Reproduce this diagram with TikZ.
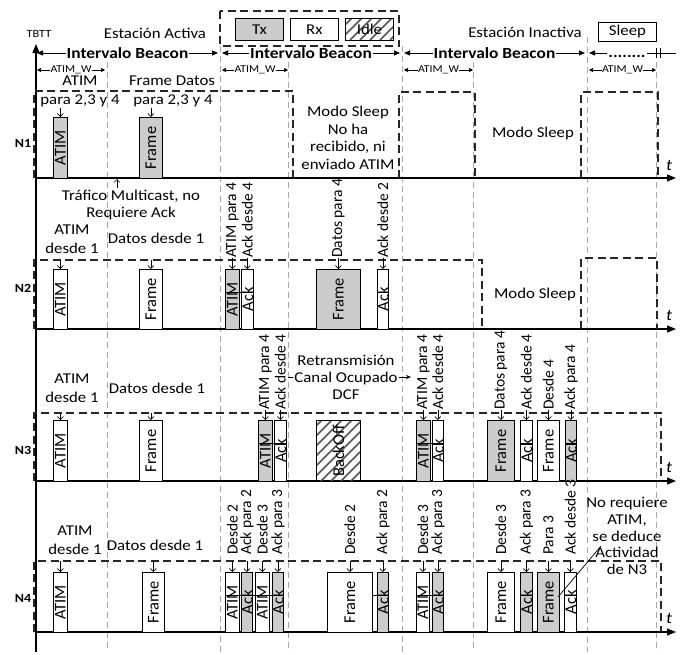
\documentclass[tikz,border=0pt]{standalone}
\usepackage{fontspec}
\usepackage{graphicx}
\setmainfont{Carlito}
\newfontfamily\hf{Carlito}[FakeStretch=1.12]
\usetikzlibrary{arrows.meta}
\definecolor{bg}{RGB}{204,204,204}
\definecolor{gl}{RGB}{165,165,165}
\definecolor{ht}{RGB}{85,85,85}
\tikzset{
 lbl/.style={font=\hf\fontsize{15}{18.5}\selectfont, align=center, inner sep=0.5pt},
 rlab/.style={font=\fontsize{15.5}{17}\selectfont, rotate=90, anchor=west, inner sep=0pt},
 rt/.style={font=\fontsize{16.5}{17}\selectfont, rotate=90, inner sep=0pt},
 pk/.style={draw, line width=0.8pt, inner sep=0pt, anchor=north west},
 gr/.style={fill=bg},
 wh/.style={fill=white},
 ar/.style={-{Straight Barb[length=3pt,width=6pt]}, line width=0.7pt},
 gdash/.style={gl, line width=0.8pt, dash pattern=on 6pt off 4pt},
 bdash/.style={black!85, line width=1.3pt, dash pattern=on 8pt off 4.5pt},
 axis/.style={line width=1.3pt, -{Triangle[length=9pt,width=7pt]}},
 ib/.style={line width=1pt, {Triangle[length=6pt,width=5pt]}-{Triangle[length=6pt,width=5pt]}},
 aw/.style={line width=0.7pt, {Triangle[length=4pt,width=4pt]}-{Triangle[length=4pt,width=4pt]}},
 ibl/.style={font=\hf\bfseries\fontsize{15.5}{17}\selectfont, fill=white, inner sep=1pt},
 awl/.style={font=\hf\fontsize{10.5}{12}\selectfont, fill=white, inner sep=0.5pt},
 nl/.style={font=\hf\bfseries\fontsize{12.5}{14}\selectfont, inner sep=0pt},
 tl/.style={font=\hf\itshape\fontsize{16}{18}\selectfont, inner sep=0pt},
 thin/.style={line width=0.7pt},
}
% box: name, x1, x2, top, bottom, style, text
\newcommand\pk[7]{\node[pk,#6,minimum width=#3pt-#2pt,minimum height=#5pt-#4pt] (#1) at (#2,#4) {};
 \node[rt] (#1t) at (#1.center) {#7};}
% rotated label above box: name, box, text-bottom y, text
\newcommand\rl[4]{\node[rlab] (#1) at (#2.north |- 0,#3) {#4};
 \draw[ar] (#1.west) -- (#2.north);}
% rotated label with gap: name, box, text-bottom y, text
\newcommand\rlg[4]{\node[rlab] (#1) at (#2.north |- 0,#3) {#4};
 \draw[ar] ([yshift=-6pt]#1.west) -- (#2.north);}
\newcommand\hatch[4]{\begin{scope}\clip (#1,#2) rectangle (#3,#4);
 \foreach \i in {0,10,...,130} \draw[ht, line width=1.5pt] (#1-65+\i,#4) -- ++(65,-65);\end{scope}}
\begin{document}
\begin{tikzpicture}[x=1pt,y=-1pt]
\useasboundingbox (0,0) rectangle (682,654);
% grey guide lines
\foreach \x in {107,288,473,656} \draw[gdash] (\x,62) -- (\x,652);
\foreach \x in {220,402} \draw[gdash] (\x,46) -- (\x,652);
\draw[gdash] (587,37) -- (587,652);
% header
\node[lbl, font=\hf\fontsize{11}{12}\selectfont] (tbtt) at (39,34) {TBTT};
\node[lbl] (eact) at (155,33) {Estación Activa};
\draw[bdash] (220,11) rectangle (399,46);
\node[pk, gr, minimum width=48pt, minimum height=22pt] (ltx) at (235,18) {};
\node[lbl] (ltxt) at (ltx.center) {Tx};
\node[pk, wh, minimum width=48pt, minimum height=22pt] (lrx) at (290,18) {};
\node[lbl] (lrxt) at (lrx.center) {Rx};
\hatch{345}{18}{393}{40}
\node[pk, minimum width=48pt, minimum height=22pt] (lid) at (345,18) {};
\node[lbl] (lidt) at (lid.center) {Idle};
\node[lbl] (einact) at (525,32) {Estación Inactiva};
\node[pk, wh, minimum width=58pt, minimum height=19pt] (lsl) at (598,22) {};
\node[lbl] (lslt) at (lsl.center) {Sleep};
% intervalo beacon arrows
\coordinate (b0) at (37,53); \coordinate (b1) at (218,53);
\coordinate (b2) at (222,53); \coordinate (b3) at (400,53);
\coordinate (b4) at (404,53); \coordinate (b5) at (585,53);
\coordinate (b6) at (589,53); \coordinate (b7) at (676,53);
\draw[ib] (b0) -- node[ibl] (ib1) {Intervalo Beacon} (b1);
\draw[ib] (b2) -- node[ibl] (ib2) {Intervalo Beacon} (b3);
\draw[ib] (b4) -- node[ibl] (ib3) {Intervalo Beacon} (b5);
\draw[line width=1pt, {Triangle[length=6pt,width=5pt]}-] (b6) -- (b7);
\node[ibl] (ib4) at (627,53) {\vphantom{I}........};
\draw[line width=1pt] (656,48) -- (656,58) (660,48) -- (660,58);
% ATIM_W arrows
\draw[aw] (37,70) -- node[awl] (w1) {ATIM\_W} (105,70);
\draw[aw] (222,70) -- node[awl] (w2) {ATIM\_W} (288,70);
\draw[aw] (404,70) -- node[awl] (w3) {ATIM\_W} (473,70);
\draw[aw] (589,70) -- node[awl] (w4) {ATIM\_W} (656,70);
% axes
\draw[axis] (36,652) -- (36,44);
\foreach \y in {178,329,481,632} \draw[axis] (36,\y) -- (676,\y);
\node[tl] (t1) at (669,165) {t};
\node[tl] (t2) at (669,315) {t};
\node[tl] (t3) at (669,467) {t};
\node[tl] (t4) at (669,618) {t};
\node[nl] (N1) at (23,143) {N1};
\node[nl] (N2) at (23,288) {N2};
\node[nl] (N3) at (23,450) {N3};
\node[nl] (N4) at (23,598) {N4};
% awake / sleep dashed frames
\draw[bdash] (34,178) -- (34,91) -- (293,91) -- (293,178);
\draw[bdash] (399,178) -- (399,92) -- (475,92) -- (475,178);
\draw[bdash] (581,178) -- (581,92) -- (658,92) -- (658,178);
\draw[bdash] (34,329) -- (34,260) -- (482,260) -- (482,329);
\draw[bdash] (581,329) -- (581,258) -- (657,258) -- (657,329);
\draw[bdash] (34,481) -- (34,413) -- (661,413) -- (661,481);
\draw[bdash] (34,632) -- (34,561) -- (661,561) -- (661,632);
% ---------- N1
\pk{a1}{53}{67}{117}{178}{gr}{ATIM}
\pk{f1}{139}{162}{117}{178}{gr}{Frame}
\node[lbl] (la1) at (80,81) {ATIM};
\node[lbl] (la1b) at (80,101) {para 2,3 y 4};
\node[lbl] (lf1) at (172,81) {Frame Datos};
\node[lbl] (lf1b) at (173,101) {para 2,3 y 4};
\draw[ar] (a1.north |- 0,108) -- (a1.north);
\draw[ar] (f1.north |- 0,108) -- (f1.north);
\node[lbl, font=\hf\fontsize{15}{17.5}\selectfont] (ms1) at (348,138) {Modo Sleep\\No ha\\recibido, ni\\enviado ATIM};
\node[lbl] (ms1b) at (533,133) {Modo Sleep};
\coordinate (mc) at (117,188);
\draw[ar] (mc) -- (117,179);
\node[lbl, font=\hf\fontsize{15}{17}\selectfont] (lmc) at (131,205) {Tráfico Multicast, no\\Requiere Ack};
% ---------- N2
\pk{a2}{53}{67}{269}{329}{wh}{ATIM}
\pk{f2}{139}{162}{269}{329}{wh}{Frame}
\pk{a2b}{225}{239}{269}{329}{gr}{ATIM}
\pk{k2b}{241}{253}{269}{329}{wh}{Ack}
\pk{f2b}{316}{360}{269}{329}{gr}{Frame}
\pk{k2c}{377}{388}{269}{329}{wh}{Ack}
\draw[thin] (225,292) -- (253,292);
\node[lbl] (la2) at (72,239) {ATIM\\desde 1};
\node[lbl] (lf2) at (156,238) {Datos desde 1};
\draw[ar] (a2.north |- 0,260) -- (a2.north);
\draw[ar] (f2.north |- 0,260) -- (f2.north);
\rl{r21}{a2b}{258}{ATIM para 4}
\rl{r22}{k2b}{258}{Ack desde 4}
\rl{r23}{f2b}{258}{Datos para 4}
\rl{r24}{k2c}{258}{Ack desde 2}
\node[lbl] (ms2) at (535,294) {Modo Sleep};
% ---------- N3
\pk{a3}{53}{67}{420}{481}{wh}{ATIM}
\pk{f3}{139}{162}{420}{481}{wh}{Frame}
\pk{a3b}{258}{272}{420}{481}{gr}{ATIM}
\pk{k3b}{274}{286}{420}{481}{wh}{Ack}
\hatch{316}{420}{360}{481}
\pk{bo3}{316}{360}{420}{481}{}{BackOff}
\pk{a3c}{416}{430}{420}{481}{gr}{ATIM}
\pk{k3c}{432}{443}{420}{481}{wh}{Ack}
\pk{f3c}{487}{514}{420}{481}{gr}{Frame}
\pk{k3d}{520}{532}{420}{481}{wh}{Ack}
\pk{f3d}{537}{559}{420}{481}{wh}{Frame}
\pk{k3e}{565}{576}{420}{481}{gr}{Ack}
\draw[thin] (258,443) -- (286,443) (416,443) -- (443,443) (520,443) -- (532,443) (565,443) -- (576,443);
\node[lbl] (la3) at (72,388) {ATIM\\desde 1};
\node[lbl] (lf3) at (157,388) {Datos desde 1};
\draw[ar] (a3.north |- 0,413) -- (a3.north);
\draw[ar] (f3.north |- 0,413) -- (f3.north);
\rl{r31}{a3b}{410}{ATIM para 4}
\rl{r32}{k3b}{410}{Ack desde 4}
\rl{r33}{a3c}{410}{ATIM para 4}
\rl{r34}{k3c}{410}{Ack desde 4}
\rl{r35}{f3c}{410}{Datos para 4}
\rl{r36}{k3d}{410}{Ack desde 4}
\rl{r37}{f3d}{410}{Desde 4}
\rl{r38}{k3e}{410}{Ack para 4}
\node[lbl, font=\hf\fontsize{15}{17}\selectfont, inner sep=1pt] (rtx) at (346,377) {Retransmisión\\Canal Ocupado\\DCF};
\coordinate (rl0) at (288,377); \coordinate (rl1) at (411,377);
\draw[thin] (rl0) -- (rtx.west |- rl0);
\draw[thin, -{Stealth[length=5pt,width=4pt]}] (rtx.east |- rl1) -- (rl1);
% ---------- N4
\pk{a4}{53}{67}{572}{632}{wh}{ATIM}
\pk{f4}{142}{164}{572}{632}{wh}{Frame}
\pk{a4b}{225}{239}{572}{632}{wh}{ATIM}
\pk{k4b}{241}{252}{572}{632}{gr}{Ack}
\pk{a4c}{255}{269}{572}{632}{wh}{ATIM}
\pk{k4c}{272}{283}{572}{632}{gr}{Ack}
\pk{f4d}{327}{372}{572}{632}{wh}{Frame}
\pk{k4d}{377}{388}{572}{632}{gr}{Ack}
\pk{a4e}{416}{429}{572}{632}{wh}{ATIM}
\pk{k4e}{432}{443}{572}{632}{gr}{Ack}
\pk{f4f}{487}{514}{572}{632}{wh}{Frame}
\pk{k4f}{520}{532}{572}{632}{gr}{Ack}
\pk{f4g}{537}{559}{572}{632}{gr}{Frame}
\pk{k4g}{564}{576}{572}{632}{wh}{Ack}
\draw[thin] (225,595) -- (283,595) (372,595) -- (388,595) (416,595) -- (443,595) (520,595) -- (532,595) (564,595) -- (576,595);
\node[lbl] (la4) at (75,540) {ATIM\\desde 1};
\node[lbl] (lf4) at (155,545) {Datos desde 1};
\draw[ar] (a4.north |- 0,561) -- (a4.north);
\draw[ar] (f4.north |- 0,561) -- (f4.north);
\rlg{r41}{a4b}{555}{Desde 2}
\rlg{r42}{k4b}{555}{Ack para 2}
\rlg{r43}{a4c}{555}{Desde 3}
\rlg{r44}{k4c}{555}{Ack para 3}
\rlg{r45}{f4d}{555}{Desde 2}
\rlg{r46}{k4d}{555}{Ack para 2}
\rlg{r47}{a4e}{555}{Desde 3}
\rlg{r48}{k4e}{555}{Ack para 3}
\rlg{r49}{f4f}{555}{Desde 3}
\rlg{r4a}{k4f}{555}{Ack para 3}
\rlg{r4b}{f4g}{555}{Para 3}
\rlg{r4c}{k4g}{555}{Ack desde 3}
\node[lbl, font=\hf\fontsize{15}{16.8}\selectfont] (note) at (627,536) {No requiere\\ATIM,\\se deduce\\Actividad\\de N3};
\coordinate (nl0) at (558,597);
\draw[thin] (nl0) -- (601,546);
\end{tikzpicture}
\end{document}
